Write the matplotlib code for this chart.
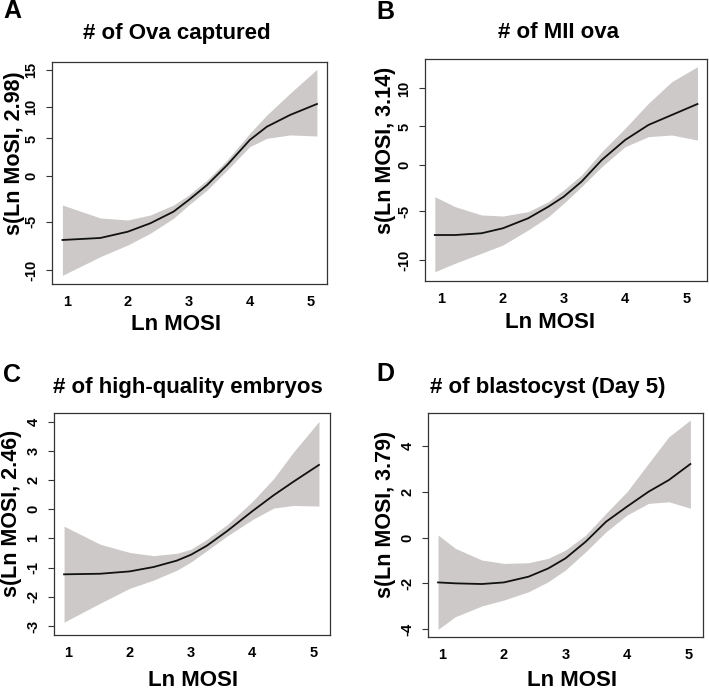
import matplotlib
matplotlib.use("Agg")
import matplotlib.pyplot as plt

plt.rcParams['font.family'] = ['Liberation Sans', 'DejaVu Sans']
plt.rcParams['font.weight'] = 'bold'

W, H = 709, 689

# ---------------- data ----------------
# Panel A: # of Ova captured
a_x = [0.93, 1.55, 2.0, 2.37, 2.75, 3.0, 3.30, 3.63, 4.0, 4.28, 4.66, 5.10]
a_fit = [-7.79, -7.52, -6.68, -5.55, -3.99, -2.43, -0.42, 2.27, 5.62, 7.40, 8.97, 10.44]
a_upper = [-3.10, -4.84, -5.11, -4.44, -3.10, -1.76, 0.25, 2.94, 6.51, 8.97, 11.88, 15.09]
a_lower = [-12.53, -10.03, -8.46, -6.89, -4.88, -3.10, -1.09, 1.59, 4.72, 5.84, 6.29, 6.15]
a_yticks = [15.0, 10.0, 5.82, 0.80, -5.36, -11.88]
a_yticklabels = ["15", "10", "5", "0", "-5", "-10"]

# Panel B: # of MII ova
b_x = [0.90, 1.23, 1.66, 2.01, 2.42, 2.75, 3.0, 3.29, 3.62, 4.0, 4.38, 4.76, 5.18]
b_fit = [-9.28, -9.28, -9.05, -8.39, -7.08, -5.55, -4.24, -2.26, 0.59, 3.22, 5.20, 6.51, 7.96]
b_upper = [-4.24, -5.55, -6.64, -6.78, -6.21, -4.89, -3.36, -1.38, 1.68, 4.76, 8.05, 10.89, 12.87]
b_lower = [-14.11, -13.0, -11.68, -10.59, -8.62, -6.87, -5.11, -2.92, -0.29, 2.34, 3.66, 3.88, 3.22]
b_yticks = [10.0, 5.0, -0.07, -6.18, -12.57]
b_yticklabels = ["10", "5", "0", "-5", "-10"]

# Panel C: # of high-quality embryos
c_x = [0.93, 1.52, 2.0, 2.39, 2.77, 3.0, 3.26, 3.59, 4.0, 4.35, 4.67, 5.09]
c_fit = [-1.23, -1.21, -1.13, -0.98, -0.76, -0.56, -0.25, 0.25, 0.93, 1.48, 1.94, 2.52]
c_upper = [0.42, -0.20, -0.48, -0.59, -0.51, -0.37, -0.03, 0.47, 1.26, 2.05, 2.95, 4.01]
c_lower = [-2.87, -2.22, -1.71, -1.43, -1.09, -0.81, -0.42, 0.08, 0.64, 1.04, 1.13, 1.11]
c_yticks = [4, 3, 2, 1, 0, -1, -2, -3]
c_yticklabels = ["4", "3", "2", "0", "1", "-1", "-2", "-3"]

# Panel D: # of blastocyst (Day 5)
d_x = [0.93, 1.21, 1.64, 2.0, 2.40, 2.72, 3.0, 3.33, 3.66, 4.0, 4.35, 4.68, 5.03]
d_fit = [-1.96, -2.00, -2.03, -1.96, -1.71, -1.35, -0.91, -0.18, 0.69, 1.35, 2.00, 2.51, 3.21]
d_upper = [0.11, -0.47, -0.98, -1.13, -1.10, -0.91, -0.55, 0.11, 1.06, 2.00, 3.24, 4.40, 5.13]
d_lower = [-4.01, -3.46, -2.99, -2.73, -2.37, -1.93, -1.42, -0.62, 0.25, 0.98, 1.49, 1.56, 1.28]
d_yticks = [4, 2, 0, -2, -4]
d_yticklabels = ["4", "2", "0", "-2", "-4"]

x_ticks = [1, 2, 3, 4, 5]
x_ticklabels = ["1", "2", "3", "4", "5"]

letters = ["A", "B", "C", "D"]
titles = ["# of Ova captured", "# of MII ova", "# of high-quality embryos", "# of blastocyst (Day 5)"]
ylabels = ["s(Ln MoSI, 2.98)", "s(Ln MOSI, 3.14)", "s(Ln MOSI, 2.46)", "s(Ln MOSI, 3.79)"]
xlabel = "Ln MOSI"

# ---------------- layout (pixels) ----------------
panels = [
    dict(box=(52.3, 327.3, 61.7, 284.0), xlim=(0.764, 5.27), ylim=(-13.69, 16.11),
         x=a_x, fit=a_fit, up=a_upper, lo=a_lower, yt=a_yticks, ytl=a_yticklabels,
         letter=(3, 11), title=(177, 33), ylab=(15, 153), xlab=(176, 325)),
    dict(box=(425.0, 707.3, 59.3, 281.0), xlim=(0.74, 5.34), ylim=(-15.33, 13.84),
         x=b_x, fit=b_fit, up=b_upper, lo=b_lower, yt=b_yticks, ytl=b_yticklabels,
         letter=(376, 12), title=(559, 33), ylab=(385, 150), xlab=(550, 323)),
    dict(box=(54.3, 330.0, 412.7, 635.0), xlim=(0.771, 5.27), ylim=(-3.31, 4.31),
         x=c_x, fit=c_fit, up=c_upper, lo=c_lower, yt=c_yticks, ytl=c_yticklabels,
         letter=(3, 375), title=(188, 387), ylab=(12, 513), xlab=(193, 680)),
    dict(box=(428.3, 703.3, 412.7, 636.7), xlim=(0.772, 5.24), ylim=(-4.33, 5.45),
         x=d_x, fit=d_fit, up=d_upper, lo=d_lower, yt=d_yticks, ytl=d_yticklabels,
         letter=(376, 374), title=(548, 387), ylab=(385, 514), xlab=(572, 680)),
]

fig = plt.figure(figsize=(W / 100, H / 100), dpi=100)
fig.patch.set_facecolor('white')

band_color = '#cdc9c9'
for i, p in enumerate(panels):
    l, r, t, b = p['box']
    ax = fig.add_axes([l / W, (H - b) / H, (r - l) / W, (b - t) / H])
    ax.fill_between(p['x'], p['lo'], p['up'], color=band_color, linewidth=0)
    ax.plot(p['x'], p['fit'], color='#111111', linewidth=1.3)
    ax.set_xlim(*p['xlim'])
    ax.set_ylim(*p['ylim'])
    ax.set_xticks(x_ticks)
    ax.set_xticklabels(x_ticklabels, fontsize=10.5, fontweight='bold')
    ax.set_yticks(p['yt'])
    ax.set_yticklabels(p['ytl'], fontsize=10.5, fontweight='bold', rotation=90, va='center')
    ax.tick_params(axis='x', length=0, pad=8)
    ax.tick_params(axis='y', length=4, width=0.8, pad=6, color='#333333')
    for s in ax.spines.values():
        s.set_color('#333333')
        s.set_linewidth(0.9)

    fig.text(p['letter'][0] / W, 1 - p['letter'][1] / H, letters[i], fontsize=18,
             fontweight='bold', ha='left', va='center')
    fig.text(p['title'][0] / W, 1 - p['title'][1] / H, titles[i], fontsize=16,
             fontweight='bold', ha='center', va='center')
    fig.text(p['ylab'][0] / W, 1 - p['ylab'][1] / H, ylabels[i], fontsize=15.5,
             fontweight='bold', ha='center', va='center', rotation=90)
    fig.text(p['xlab'][0] / W, 1 - p['xlab'][1] / H, xlabel, fontsize=16,
             fontweight='bold', ha='center', va='center')

fig.savefig('out.png', dpi=100, facecolor='white')
